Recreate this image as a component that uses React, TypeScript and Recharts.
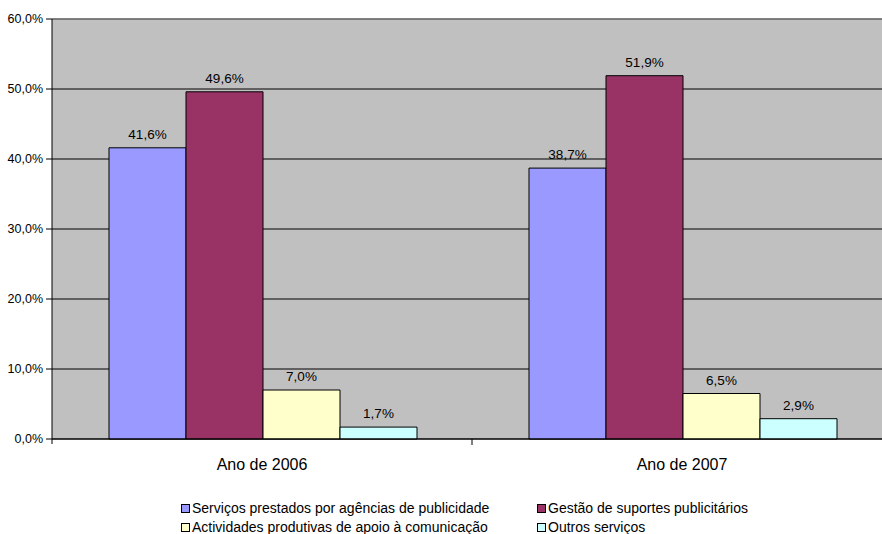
import React from "react";
import {
  BarChart,
  Bar,
  XAxis,
  YAxis,
  CartesianGrid,
  LabelList,
  ReferenceLine,
} from "recharts";

// Categories and series values (percent)
const categories = ["Ano de 2006", "Ano de 2007"];
const agencias = [41.6, 38.7];
const gestao = [49.6, 51.9];
const actividades = [7.0, 6.5];
const outros = [1.7, 2.9];
const yTicks = [0, 10, 20, 30, 40, 50, 60];

const seriesDefs = [
  { key: "agencias", name: "Serviços prestados por agências de publicidade", color: "#9999FF", values: agencias },
  { key: "gestao", name: "Gestão de suportes publicitários", color: "#993366", values: gestao },
  { key: "actividades", name: "Actividades produtivas de apoio à comunicação", color: "#FFFFCC", values: actividades },
  { key: "outros", name: "Outros serviços", color: "#CCFFFF", values: outros },
];

const data = categories.map((cat, i) => {
  const row: Record<string, string | number> = { cat };
  seriesDefs.forEach((s) => {
    row[s.key] = s.values[i];
  });
  return row;
});

const FONT = "'Liberation Sans', Arial, sans-serif";
const CHART_W = 892;
const CHART_H = 534;
const MARGIN = { top: 19, right: 0, bottom: 55, left: 0 };
const X_AXIS_H = 40;
const Y_AXIS_W = 52;
const PLOT_LEFT = MARGIN.left + Y_AXIS_W;
const PLOT_BOTTOM = CHART_H - MARGIN.bottom - X_AXIS_H;
const BAND = (CHART_W - MARGIN.right - PLOT_LEFT) / categories.length;

const pct = (v: number) => v.toFixed(1).replace(".", ",") + "%";

const CategoryTick = (props: any) => {
  const { x, payload, index } = props;
  return (
    <g>
      {index === 0 && (
        <line x1={PLOT_LEFT} y1={PLOT_BOTTOM} x2={PLOT_LEFT} y2={PLOT_BOTTOM + 5} stroke="#000" />
      )}
      <line
        x1={x + BAND / 2}
        y1={PLOT_BOTTOM}
        x2={x + BAND / 2}
        y2={PLOT_BOTTOM + 6}
        stroke="#000"
      />
      <text
        x={x}
        y={PLOT_BOTTOM + 31}
        textAnchor="middle"
        fontFamily={FONT}
        fontSize={16}
        fill="#000"
      >
        {payload.value}
      </text>
    </g>
  );
};

const LegendBlock = () => (
  <div
    style={{
      position: "absolute",
      left: 181,
      top: 499,
      display: "grid",
      gridTemplateColumns: "356px 300px",
      fontFamily: FONT,
      fontSize: 14,
      lineHeight: "19px",
      color: "#000",
    }}
  >
    {seriesDefs.map((s) => (
      <div key={s.key} style={{ display: "flex", alignItems: "center", whiteSpace: "nowrap" }}>
        <span
          style={{
            display: "inline-block",
            width: 7,
            height: 7,
            background: s.color,
            border: "1px solid #000",
            marginRight: 2,
          }}
        />
        <span>{s.name}</span>
      </div>
    ))}
  </div>
);

export default function App() {
  return (
    <div
      style={{
        position: "absolute",
        left: 0,
        top: 0,
        width: 882,
        height: 534,
        overflow: "hidden",
        background: "#fff",
      }}
    >
      <BarChart
        width={CHART_W}
        height={CHART_H}
        data={data}
        margin={MARGIN}
        barCategoryGap={57}
        barGap={0}
      >
        <CartesianGrid vertical={false} stroke="#000" fill="#C0C0C0" fillOpacity={1} />
        <XAxis
          dataKey="cat"
          axisLine={{ stroke: "#000" }}
          tickLine={false}
          tick={<CategoryTick />}
          height={X_AXIS_H}
          interval={0}
        />
        <YAxis
          width={Y_AXIS_W}
          domain={[0, 60]}
          ticks={yTicks}
          interval={0}
          tickFormatter={pct}
          axisLine={{ stroke: "#000" }}
          tickLine={{ stroke: "#000" }}
          tickSize={6}
          tickMargin={3}
          tick={{ fontFamily: FONT, fontSize: 12.5, fill: "#000" }}
        />
        <ReferenceLine y={60} stroke="#808080" strokeWidth={1.5} />
        {seriesDefs.map((s) => (
          <Bar
            key={s.key}
            dataKey={s.key}
            name={s.name}
            fill={s.color}
            stroke="#000"
            strokeWidth={1}
            isAnimationActive={false}
          >
            <LabelList
              dataKey={s.key}
              position="top"
              offset={9}
              formatter={(v: any) => pct(Number(v))}
              style={{ fontFamily: FONT, fontSize: 13.5, fill: "#000" }}
            />
          </Bar>
        ))}
      </BarChart>
      <LegendBlock />
    </div>
  );
}
